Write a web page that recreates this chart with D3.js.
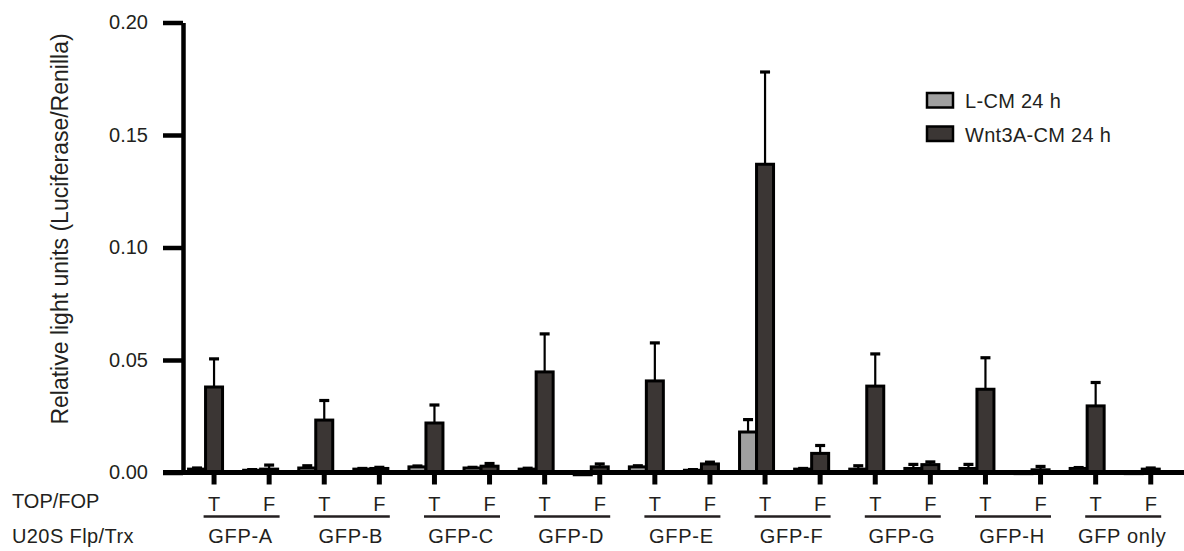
<!DOCTYPE html>
<html>
<head>
<meta charset="utf-8">
<script src="https://cdn.jsdelivr.net/npm/d3@7"></script>
<style>
  body { margin: 0; background: #fff; }
  text { font-family: "Liberation Sans", Arial, Helvetica, sans-serif; fill: #231f20; }
</style>
</head>
<body>
<svg width="1184" height="551"></svg>
<script>
// data
var groups = ["GFP-A", "GFP-B", "GFP-C", "GFP-D", "GFP-E", "GFP-F", "GFP-G", "GFP-H", "GFP only"];
var subs = ["T", "F"];
var series = ["L-CM 24 h", "Wnt3A-CM 24 h"];

// one value per group/sub pair, in order A-T, A-F, B-T, B-F ...
var lcm    = [0.0015, 0.001, 0.002, 0.0015, 0.0025, 0.002, 0.0015, -0.001, 0.0025, 0.001,
              0.018, 0.0015, 0.0015, 0.0018, 0.0018, -0.0005, 0.0018, -0.0005];
var lcmErr = [0.0005, 0.0003, 0.001, 0.0003, 0.0004, 0.0003, 0.0004, 0.0003, 0.0005, 0.0003,
              0.0055, 0.0003, 0.0015, 0.0018, 0.0018, 0.0004, 0.0004, 0.0003];
var wnt    = [0.038, 0.0015, 0.0233, 0.0018, 0.022, 0.0028, 0.0447, 0.0025, 0.0407, 0.0038,
              0.137, 0.0085, 0.0384, 0.0035, 0.037, 0.0012, 0.0296, 0.0015];
var wntErr = [0.0125, 0.0018, 0.0087, 0.0005, 0.008, 0.0012, 0.0169, 0.0013, 0.0169, 0.0008,
              0.041, 0.0035, 0.0143, 0.0012, 0.014, 0.0015, 0.0104, 0.0005];
var yTicks = [0, 0.05, 0.10, 0.15, 0.20];

var colors = ["#a0a0a0", "#3b3634"];

var svg = d3.select("svg");

// category keys
var keys = [];
groups.forEach(function (g) {
  subs.forEach(function (s) { keys.push(g + "|" + s); });
});

var rows = keys.map(function (k, i) {
  return { key: k, sub: k.split("|")[1], vals: [
    { s: 0, v: lcm[i], e: lcmErr[i] },
    { s: 1, v: wnt[i], e: wntErr[i] }
  ] };
});

var x = d3.scaleBand().domain(keys).range([186.5, 1178.3]).paddingInner(0);
var xs = d3.scaleBand().domain([0, 1]).range([-25.5, 8.5]);
var y = d3.scaleLinear().domain([0, 0.2]).range([472.5, 22.5]);

function cx(k) { return x(k) + x.bandwidth() / 2; }

// bars
var grp = svg.append("g").selectAll("g")
  .data(rows)
  .enter().append("g")
  .attr("transform", function (d) { return "translate(" + cx(d.key) + ",0)"; });

grp.selectAll("line.err")
  .data(function (d) { return d.vals; })
  .enter().append("line")
  .attr("class", "err")
  .attr("x1", function (d) { return xs(d.s) + xs.bandwidth() / 2; })
  .attr("x2", function (d) { return xs(d.s) + xs.bandwidth() / 2; })
  .attr("y1", function (d) { return y(Math.max(d.v, 0)); })
  .attr("y2", function (d) { return y(Math.max(d.v, 0) + d.e); })
  .style("stroke", "#000")
  .style("stroke-width", 2.2);

grp.selectAll("line.cap")
  .data(function (d) { return d.vals; })
  .enter().append("line")
  .attr("class", "cap")
  .attr("x1", function (d) { return xs(d.s) + xs.bandwidth() / 2 - 5; })
  .attr("x2", function (d) { return xs(d.s) + xs.bandwidth() / 2 + 5; })
  .attr("y1", function (d) { return y(Math.max(d.v, 0) + d.e); })
  .attr("y2", function (d) { return y(Math.max(d.v, 0) + d.e); })
  .style("stroke", "#000")
  .style("stroke-width", 3.2);

grp.selectAll("rect")
  .data(function (d) { return d.vals; })
  .enter().append("rect")
  .attr("x", function (d) { return xs(d.s); })
  .attr("width", xs.bandwidth())
  .attr("y", function (d) { return y(Math.max(d.v, 0)); })
  .attr("height", function (d) { return Math.abs(y(d.v) - y(0)); })
  .style("fill", function (d) { return colors[d.s]; })
  .style("stroke", "#000")
  .style("stroke-width", 3);

// y axis
var yAxis = svg.append("g")
  .attr("transform", "translate(183,0)")
  .call(d3.axisLeft(y).tickValues(yTicks).tickSize(20).tickSizeOuter(0)
    .tickPadding(15).tickFormat(d3.format(".2f")));
yAxis.select(".domain").style("stroke", "#000").style("stroke-width", 4.5);
yAxis.selectAll(".tick line").style("stroke", "#000").style("stroke-width", 4.5);
yAxis.selectAll(".tick text")
  .style("font-size", "20px")
  .style("font-family", "'Liberation Sans', Arial, sans-serif")
  .style("fill", "#231f20");

// x axis line
svg.append("line")
  .attr("x1", 163).attr("x2", 1184)
  .attr("y1", y(0)).attr("y2", y(0))
  .style("stroke", "#000")
  .style("stroke-width", 5);

var xAxis = svg.append("g")
  .attr("transform", "translate(0," + y(0) + ")")
  .call(d3.axisBottom(x).tickSize(12).tickPadding(12)
    .tickFormat(function (k) { return k.split("|")[1]; }));
xAxis.select(".domain").remove();
xAxis.selectAll(".tick line").style("stroke", "#000").style("stroke-width", 5);
xAxis.selectAll(".tick text")
  .style("font-size", "20px")
  .style("font-family", "'Liberation Sans', Arial, sans-serif")
  .style("fill", "#231f20");

// group underlines + names
var gl = svg.append("g").selectAll("g")
  .data(groups)
  .enter().append("g")
  .attr("transform", function (g) {
    var m = (cx(g + "|T") + cx(g + "|F")) / 2;
    return "translate(" + m + ",0)";
  });
gl.append("line")
  .attr("x1", -38).attr("x2", 38)
  .attr("y1", 516.5).attr("y2", 516.5)
  .style("stroke", "#231f20")
  .style("stroke-width", 2.5);
gl.append("text")
  .attr("x", -1)
  .attr("y", 543)
  .attr("text-anchor", "middle")
  .style("font-size", "20px")
  .style("letter-spacing", "0.7px")
  .text(function (g) { return g; });

// row labels
svg.append("text").attr("x", 12).attr("y", 508).style("font-size", "20px").text("TOP/FOP");
svg.append("text").attr("x", 12).attr("y", 543).style("font-size", "20px")
  .style("letter-spacing", "0.4px").text("U20S Flp/Trx");

// y label
svg.append("text")
  .attr("text-anchor", "middle")
  .attr("transform", "translate(68,229)rotate(-90)")
  .style("font-size", "23px")
  .text("Relative light units (Luciferase/Renilla)");

// legend
var leg = svg.append("g").selectAll("g")
  .data(series)
  .enter().append("g")
  .attr("transform", function (d, i) { return "translate(927," + (93 + i * 33.5) + ")"; });
leg.append("rect")
  .attr("width", 26).attr("height", 14.5)
  .style("fill", function (d, i) { return colors[i]; })
  .style("stroke", "#000")
  .style("stroke-width", 2.5);
leg.append("text")
  .attr("x", 38).attr("y", 15)
  .style("font-size", "20px")
  .style("letter-spacing", "0.3px")
  .text(function (d) { return d; });
</script>
</body>
</html>
